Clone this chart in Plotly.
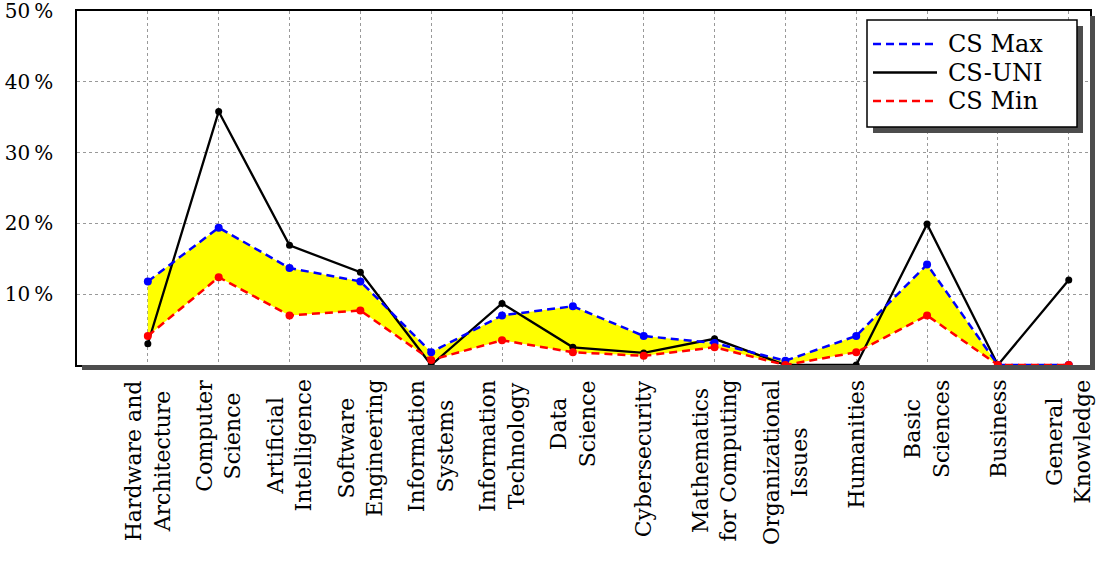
import plotly.graph_objects as go

categories = [
    "Hardware and<br>Architecture", "Computer<br>Science", "Artificial<br>Intelligence",
    "Software<br>Engineering", "Information<br>Systems", "Information<br>Technology",
    "Data<br>Science", "Cybersecurity", "Mathematics<br>for Computing",
    "Organizational<br>Issues", "Humanities", "Basic<br>Sciences", "Business",
    "General<br>Knowledge",
]
cs_max = [11.8, 19.4, 13.7, 11.8, 1.8, 7.0, 8.3, 4.1, 3.1, 0.6, 4.1, 14.2, 0.0, 0.0]
cs_uni = [3.0, 35.8, 16.9, 13.1, 0.0, 8.7, 2.5, 1.7, 3.7, 0.0, 0.0, 19.9, 0.0, 12.0]
cs_min = [4.1, 12.4, 7.0, 7.7, 0.7, 3.5, 1.8, 1.3, 2.5, 0.0, 1.8, 7.0, 0.0, 0.0]
y_ticks = [10, 20, 30, 40, 50]
legend_names = ["CS Max", "CS-UNI", "CS Min"]

FONT = "DejaVu Serif, Liberation Serif, serif"
W, H = 1097, 561
L, R, T, B = 77, 7, 11, 196
pw, ph = W - L - R, H - T - B

def px_x(p):
    return (p - L) / pw

def px_y(p):
    return (H - B - p) / ph

blue, red = "#0000ff", "#ff0000"
dash = "8px,5px"
styles = [(blue, dash), ("black", "solid"), (red, dash)]

fig = go.Figure()

# yellow band between min and max
fig.add_trace(go.Scatter(x=categories, y=cs_min, mode="lines", line=dict(width=0),
                         showlegend=False, hoverinfo="skip"))
fig.add_trace(go.Scatter(x=categories, y=cs_max, mode="lines", line=dict(width=0),
                         fill="tonexty", fillcolor="#ffff00", showlegend=False,
                         hoverinfo="skip"))

fig.add_trace(go.Scatter(x=categories, y=cs_uni, mode="lines+markers", name="CS-UNI",
                         line=dict(color="black", width=2.3),
                         marker=dict(color="black", size=7)))
fig.add_trace(go.Scatter(x=categories, y=cs_max, mode="lines+markers", name="CS Max",
                         line=dict(color=blue, width=2.5, dash=dash),
                         marker=dict(color=blue, size=8)))
fig.add_trace(go.Scatter(x=categories, y=cs_min, mode="lines+markers", name="CS Min",
                         line=dict(color=red, width=2.5, dash=dash),
                         marker=dict(color=red, size=8)))

shadow = "#4d4d4d"
shapes = [
    # plot frame shadow (bottom and right)
    dict(type="rect", xref="paper", yref="paper", layer="above",
         x0=px_x(L + 5), x1=px_x(L + pw + 5), y0=px_y(H - B + 5), y1=px_y(H - B),
         fillcolor=shadow, line=dict(width=0)),
    dict(type="rect", xref="paper", yref="paper", layer="above",
         x0=px_x(L + pw), x1=px_x(L + pw + 5), y0=px_y(H - B + 5), y1=px_y(T + 5),
         fillcolor=shadow, line=dict(width=0)),
    # legend box with shadow
    dict(type="rect", xref="paper", yref="paper", layer="above",
         x0=px_x(873), x1=px_x(1083), y0=px_y(133), y1=px_y(26),
         fillcolor=shadow, line=dict(width=0)),
    dict(type="rect", xref="paper", yref="paper", layer="above",
         x0=px_x(867), x1=px_x(1077), y0=px_y(127), y1=px_y(20),
         fillcolor="white", line=dict(color="black", width=1.5)),
]
annotations = []
for i, (name, (color, d)) in enumerate(zip(legend_names, styles)):
    yy = px_y(44 + 28.5 * i)
    shapes.append(dict(type="line", xref="paper", yref="paper", layer="above",
                       x0=px_x(873), x1=px_x(937), y0=yy, y1=yy,
                       line=dict(color=color, width=2.5, dash=d)))
    annotations.append(dict(x=px_x(946), y=yy, xref="paper", yref="paper", text=name,
                            showarrow=False, xanchor="left", yanchor="middle",
                            font=dict(family=FONT, size=24, color="black")))

# category labels, rotated and centred like the original
for c in categories:
    annotations.append(dict(x=c, y=px_y(H - B + 13), xref="x", yref="paper", text=c,
                            showarrow=False, textangle=-90, xanchor="center",
                            yanchor="top", align="center",
                            font=dict(family=FONT, size=22, color="black")))

fig.update_layout(
    width=W, height=H,
    margin=dict(l=L, r=R, t=T, b=B),
    plot_bgcolor="white", paper_bgcolor="white",
    font=dict(family=FONT, size=20, color="black"),
    showlegend=False,
    xaxis=dict(range=[-1, 13.3], showticklabels=False, showgrid=True,
               gridcolor="#999999", griddash="dot", gridwidth=1, showline=True,
               linecolor="black", linewidth=1.5, mirror=True, ticks="",
               zeroline=False, automargin=False),
    yaxis=dict(range=[0, 50], tickvals=y_ticks,
               ticktext=[f"{v}\u2009%" for v in y_ticks],
               showgrid=True, gridcolor="#999999", griddash="dot", gridwidth=1,
               showline=True, linecolor="black", linewidth=1.5, mirror=True,
               ticks="", zeroline=False, automargin=False, ticklabelstandoff=18,
               ticklabeloverflow="allow", tickfont=dict(size=20)),
    shapes=shapes,
    annotations=annotations,
)

# the page's default body margin would shift the whole figure
fig.write_html("out.html", config={"displayModeBar": False},
               post_script="document.body.style.margin='0px';")
